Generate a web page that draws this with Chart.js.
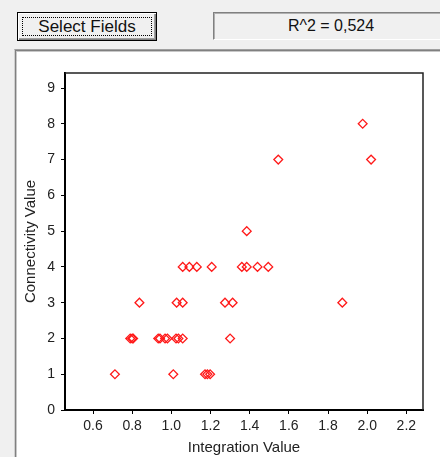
<!DOCTYPE html>
<html>
<head>
<meta charset="utf-8">
<script src="https://cdn.jsdelivr.net/npm/chart.js@4"></script>
<style>
  html, body { margin: 0; padding: 0; }
  body {
    width: 440px; height: 457px; overflow: hidden; position: relative;
    background: #f0f0f0; font-family: 'Liberation Sans', Arial, sans-serif;
  }
  .btn {
    position: absolute; left: 17px; top: 12px; width: 138px; height: 27px;
    border: 1px solid #000; background: #f0f0f0;
    box-shadow: inset 1px 1px #fff, inset -1px -1px #808080, inset -2px -2px #a0a0a0;
  }
  .btn .focus {
    position: absolute; left: 4px; top: 4px; right: 4px; bottom: 4px;
    border: 1px dotted #000;
  }
  .btn span {
    position: absolute; left: 0; right: 0; top: 4px; text-align: center;
    font-size: 17px; line-height: 19px; color: #111;
  }
  .rbox {
    position: absolute; left: 213px; top: 12px; width: 240px; height: 26px;
    border-top: 1px solid #808080; border-left: 1px solid #808080;
    border-bottom: 1px solid #fff;
    box-shadow: inset 1px 1px #b0b0b0;
  }
  .rbox span {
    position: absolute; left: 0; width: 234px; top: 4px; text-align: center;
    font-size: 16px; line-height: 18px; color: #111;
  }
  .panel {
    position: absolute; left: 14px; top: 49px; width: 440px; height: 420px;
    background: #fff;
    border-top: 1px solid #a0a0a0; border-left: 1px solid #d0d0d0;
    box-shadow: inset 1px 1px #808080, inset 2px 2px #c8c8c8;
  }
  .wrap { position: absolute; left: 0; top: 0; width: 440px; height: 457px; }
</style>
</head>
<body>
<div class="btn"><div class="focus"></div><span>Select Fields</span></div>
<div class="rbox"><span>R^2 = 0,524</span></div>
<div class="panel"></div>
<div class="wrap"><canvas id="chart"></canvas></div>
<script>
// integration value (x) and connectivity value (y), one entry per point
const integration = [
  0.712, 1.01, 1.172, 1.184, 1.198,
  0.79, 0.80, 0.805, 0.933, 0.942, 0.968, 0.98, 1.024, 1.036, 1.058, 1.30,
  0.837, 1.027, 1.058, 1.274, 1.313, 1.873,
  1.058, 1.092, 1.13, 1.206, 1.36, 1.385, 1.44, 1.495,
  1.385,
  1.546, 2.02,
  1.977
]
const connectivity = [
  1, 1, 1, 1, 1,
  2, 2, 2, 2, 2, 2, 2, 2, 2, 2, 2,
  3, 3, 3, 3, 3, 3,
  4, 4, 4, 4, 4, 4, 4, 4,
  5,
  7, 7,
  8
]

const xTicks = [0.6, 0.8, 1.0, 1.2, 1.4, 1.6, 1.8, 2.0, 2.2]
const yTicks = [0, 1, 2, 3, 4, 5, 6, 7, 8, 9]

const points = integration.map((v, i) => ({ x: v, y: connectivity[i] }))

const tickFont = { family: "'Liberation Sans', Arial, sans-serif", size: 14 }
const titleFont = { family: "'Liberation Sans', Arial, sans-serif", size: 15 }

// thin frame on top and right of the plot
const frame = {
  id: 'frame',
  afterDraw(chart) {
    const { ctx, chartArea: a } = chart
    ctx.save()
    ctx.strokeStyle = '#222'
    ctx.lineWidth = 1.5
    ctx.beginPath()
    ctx.moveTo(a.left, a.top)
    ctx.lineTo(a.right, a.top)
    ctx.lineTo(a.right, a.bottom)
    ctx.stroke()
    ctx.restore()
  },
}

const ctx = document.getElementById('chart').getContext('2d')
new Chart(ctx, {
  type: 'scatter',
  data: {
    datasets: [{
      data: points,
      pointStyle: 'rectRot',
      pointRadius: 4.4,
      borderColor: 'rgb(255,25,25)',
      backgroundColor: 'rgba(255,255,255,0)',
      borderWidth: 1.3,
    }],
  },
  options: {
    responsive: true,
    maintainAspectRatio: false,
    animation: false,
    layout: { padding: { left: 18, right: 17, top: 73, bottom: 0 } },
    scales: {
      x: {
        type: 'linear',
        min: 0.457,
        max: 2.285,
        afterBuildTicks: (axis) => { axis.ticks = xTicks.map(v => ({ value: v })) },
        afterFit: (axis) => { axis.height = 47 },
        grid: { drawOnChartArea: false, tickLength: 4, tickColor: '#000', tickWidth: 1 },
        border: { display: true, color: '#000', width: 2 },
        ticks: {
          color: '#222', font: tickFont, padding: 4, maxRotation: 0,
          callback: (v) => Number(v).toFixed(1),
        },
        title: {
          display: true, text: 'Integration Value', color: '#222',
          font: titleFont, padding: { top: 0, bottom: 0 },
        },
      },
      y: {
        type: 'linear',
        min: 0,
        max: 9.42,
        afterBuildTicks: (axis) => { axis.ticks = yTicks.map(v => ({ value: v })) },
        afterFit: (axis) => { axis.width = 47 },
        grid: { drawOnChartArea: false, tickLength: 4, tickColor: '#000', tickWidth: 1 },
        border: { display: true, color: '#000', width: 2 },
        ticks: { color: '#222', font: tickFont, padding: 6 },
        title: {
          display: true, text: 'Connectivity Value', color: '#222',
          font: titleFont, padding: { top: 4, bottom: 0 },
        },
      },
    },
    plugins: {
      legend: { display: false },
      tooltip: { enabled: false },
    },
  },
  plugins: [frame],
})
</script>
</body>
</html>
